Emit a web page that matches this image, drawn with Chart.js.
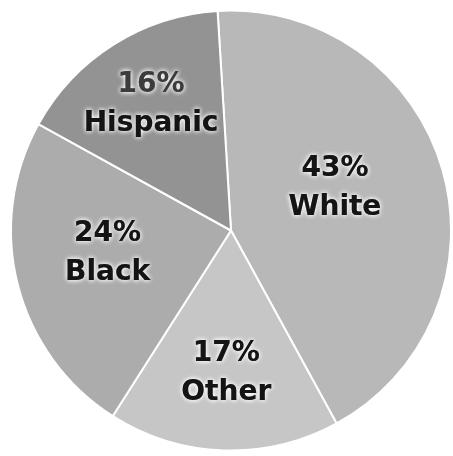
<!DOCTYPE html>
<html>
<head>
    <script src="https://cdn.jsdelivr.net/npm/chart.js@4/dist/chart.umd.min.js"></script>
</head>
<body>
    <canvas id="pie" width="453" height="456" role="img" aria-label="Pie chart of population by race"></canvas>
</body>
</html>

<script>
    // DATA
    const groups = ['White', 'Other', 'Black', 'Hispanic'];
    const shares = [43, 17, 24, 16];

    // slice shades, grey scan look
    const sliceColors = ['#b8b8b8', '#c6c6c6', '#acacac', '#939393'];
    // label placement: fraction of radius, and a small turn (degrees) off the slice middle
    const labelDist = [0.51, 0.65, 0.57, 0.68];
    const labelTurn = [-6, 0, 4, 0];

    // Draws the two-line "NN% / Name" labels with a white halo
    const pieLabels = {
        id: 'pieLabels',
        afterDatasetsDraw(chart) {
            const ctx = chart.ctx;
            const meta = chart.getDatasetMeta(0);
            ctx.save();
            ctx.font = 'bold 28px "DejaVu Sans"';
            ctx.textAlign = 'center';
            ctx.textBaseline = 'middle';
            meta.data.forEach((arc, i) => {
                const mid = (arc.startAngle + arc.endAngle) / 2 + labelTurn[i] * Math.PI / 180;
                const r = arc.outerRadius * labelDist[i];
                const x = arc.x + Math.cos(mid) * r;
                const y = arc.y + Math.sin(mid) * r;
                const lines = [shares[i] + '%', groups[i]];
                lines.forEach((txt, k) => {
                    const ty = y + (k - 0.5) * 39;
                    ctx.shadowColor = 'rgba(255,255,255,0.95)';
                    ctx.shadowBlur = 5;
                    ctx.fillStyle = (i === 3 && k === 0) ? '#3c3c3c' : '#141414';
                    ctx.fillText(txt, x, ty);
                    ctx.fillText(txt, x, ty);
                });
            });
            ctx.restore();
        }
    };

    new Chart(document.getElementById('pie'), {
        type: 'pie',
        data: {
            labels: groups,
            datasets: [{
                data: shares,
                backgroundColor: sliceColors,
                borderColor: '#ffffff',
                borderWidth: 2
            }]
        },
        options: {
            responsive: false,
            animation: false,
            rotation: -3.5,
            layout: { padding: { left: 10, right: 1, top: 9, bottom: 4 } },
            plugins: {
                legend: { display: false },
                tooltip: { enabled: false }
            }
        },
        plugins: [pieLabels]
    });
</script>

<style>
html, body {
    margin: 0;
    padding: 0;
    background: #ffffff;
}
canvas {
    display: block;
}
</style>
